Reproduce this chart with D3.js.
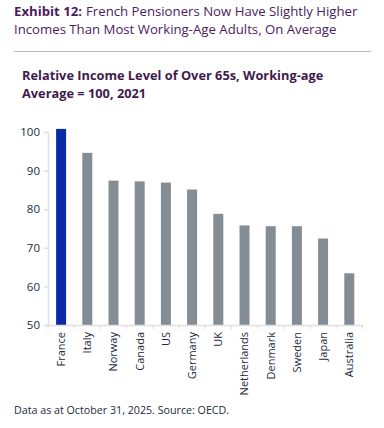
<!DOCTYPE html>
<html>
<head>
<meta charset="utf-8">
<script src="https://cdn.jsdelivr.net/npm/d3@7"></script>
<style>
  body { margin: 0; background: #fff; }
  text { font-family: "Open Sans", sans-serif; }
</style>
</head>
<body>
<script>
var W = 384, H = 428;

// data
var countries = ["France", "Italy", "Norway", "Canada", "US", "Germany", "UK",
  "Netherlands", "Denmark", "Sweden", "Japan", "Australia"];
var income = [100.8, 94.6, 87.4, 87.2, 86.9, 85.1, 78.8, 75.8, 75.6, 75.6, 72.4, 63.4];
var yTicks = [50, 60, 70, 80, 90, 100];

var svg = d3.select("body").append("svg")
  .attr("width", W)
  .attr("height", H);

// header
var lead = svg.append("text")
  .attr("x", 14).attr("y", 16)
  .attr("font-size", 13.2).attr("font-weight", "bold")
  .attr("fill", "#4b1c5e")
  .text("Exhibit 12:");
var leadW = lead.node().getComputedTextLength();
svg.append("text")
  .attr("x", 14 + leadW + 4).attr("y", 16)
  .attr("font-size", 13.2)
  .attr("fill", "#4b1c5e")
  .text("French Pensioners Now Have Slightly Higher");
svg.append("text")
  .attr("x", 14).attr("y", 34)
  .attr("font-size", 13.2)
  .attr("fill", "#4b1c5e")
  .text("Incomes Than Most Working-Age Adults, On Average");

svg.append("line")
  .attr("x1", 14).attr("x2", 371)
  .attr("y1", 51.5).attr("y2", 51.5)
  .attr("stroke", "#b8b8bc")
  .attr("stroke-width", 1.2);

svg.append("text")
  .attr("x", 22).attr("y", 80)
  .attr("font-size", 12.8).attr("font-weight", "bold")
  .attr("fill", "#3f1a4c")
  .text("Relative Income Level of Over 65s, Working-age");
svg.append("text")
  .attr("x", 22).attr("y", 97.5)
  .attr("font-size", 12.8).attr("font-weight", "bold")
  .attr("fill", "#3f1a4c")
  .text("Average = 100, 2021");

// chart
var x = d3.scaleBand()
  .domain(countries)
  .range([48, 362.4]);

var y = d3.scaleLinear()
  .domain([50, 100])
  .range([325, 132]);

var g = svg.append("g");

g.selectAll("rect.bar")
  .data(countries)
  .enter().append("rect")
  .attr("class", "bar")
  .attr("x", function(d) { return x(d) + x.bandwidth() / 2 - 5; })
  .attr("width", 10)
  .attr("y", function(d, i) { return y(income[i]); })
  .attr("height", function(d, i) { return y(50) - y(income[i]); })
  .attr("fill", function(d) { return d === "France" ? "#0a2aa8" : "#848d94"; });

var yAxis = g.append("g")
  .attr("transform", "translate(48,0)")
  .call(d3.axisLeft(y).tickValues(yTicks).tickSize(4).tickPadding(4));
yAxis.select(".domain").attr("stroke", "#e0e0e0").attr("stroke-width", 1.5);
yAxis.selectAll(".tick line").attr("stroke", "#e0e0e0").attr("stroke-width", 1.5);
yAxis.selectAll(".tick text")
  .attr("font-family", "Open Sans, sans-serif")
  .attr("font-size", 11.5)
  .attr("fill", "#1c2b3c");

var xAxis = g.append("g")
  .attr("transform", "translate(0,325)")
  .call(d3.axisBottom(x).tickSize(0).tickPadding(6));
xAxis.select(".domain").attr("stroke", "#e0e0e0").attr("stroke-width", 1.5);
xAxis.selectAll(".tick text")
  .attr("font-family", "Open Sans, sans-serif")
  .attr("font-size", 11)
  .attr("fill", "#1c2b3c")
  .attr("transform", "rotate(-90)")
  .attr("text-anchor", "end")
  .attr("x", -7)
  .attr("y", 0)
  .attr("dy", "0.35em");

// small ticks between categories
g.selectAll("line.sep")
  .data(countries.concat(["_end"]))
  .enter().append("line")
  .attr("class", "sep")
  .attr("x1", function(d, i) { return 48 + i * x.bandwidth(); })
  .attr("x2", function(d, i) { return 48 + i * x.bandwidth(); })
  .attr("y1", 325).attr("y2", 329)
  .attr("stroke", "#e0e0e0")
  .attr("stroke-width", 1.2);

// footer
svg.append("text")
  .attr("x", 14).attr("y", 414)
  .attr("font-size", 10.7)
  .attr("fill", "#1c2b3c")
  .text("Data as at October 31, 2025. Source: OECD.");
</script>
</body>
</html>
